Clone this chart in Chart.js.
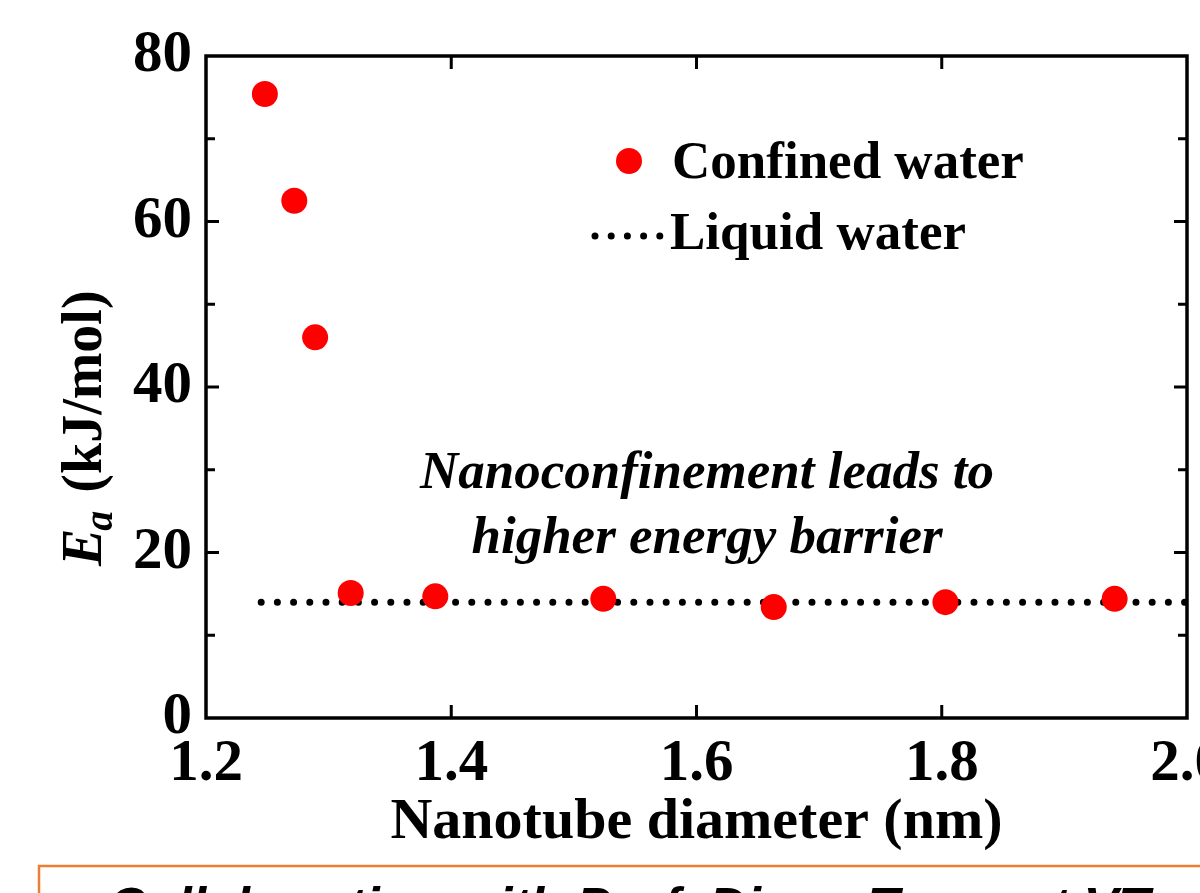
<!DOCTYPE html>
<html>
<head>
<meta charset="utf-8">
<script src="https://cdn.jsdelivr.net/npm/chart.js@4.4.0/dist/chart.umd.min.js"></script>
<style>
  html, body { margin: 0; padding: 0; background: #fff; }
  #wrap { width: 1200px; height: 893px; position: relative; }
</style>
</head>
<body>
<div id="wrap"><canvas id="chart"></canvas></div>
<script>
// nanotube diameter (nm) and activation energy (kJ/mol)
const diameters = [1.248, 1.272, 1.289, 1.318, 1.387, 1.524, 1.663, 1.803, 1.941];
const confinedEa = [75.4, 62.5, 46.0, 15.1, 14.7, 14.4, 13.4, 14.0, 14.4];
const liquidX = [1.245, 2.0];
const liquidEa = [14.0, 14.0];
const xTicks = [1.2, 1.4, 1.6, 1.8, 2.0];
const yTicks = [0, 20, 40, 60, 80];
const yMinorTicks = [10, 30, 50, 70];

const serif = '"Liberation Serif", "Times New Roman", serif';
const sans = '"Liberation Sans", Arial, sans-serif';

const frame = {
  id: 'frame',
  afterDatasetsDraw(chart) {
    const ctx = chart.ctx;
    const { left, right, top, bottom } = chart.chartArea;
    const xs = chart.scales.x, ys = chart.scales.y;
    ctx.save();
    ctx.strokeStyle = '#000';
    ctx.lineWidth = 3.5;
    ctx.strokeRect(left, top, right - left, bottom - top);

    // inward tick marks
    ctx.lineWidth = 3;
    ctx.beginPath();
    xTicks.slice(1, -1).forEach(v => {
      const px = xs.getPixelForValue(v);
      ctx.moveTo(px, bottom); ctx.lineTo(px, bottom - 13);
      ctx.moveTo(px, top); ctx.lineTo(px, top + 13);
    });
    yTicks.slice(1, -1).forEach(v => {
      const py = ys.getPixelForValue(v);
      ctx.moveTo(left, py); ctx.lineTo(left + 13, py);
      ctx.moveTo(right, py); ctx.lineTo(right - 13, py);
    });
    yMinorTicks.forEach(v => {
      const py = ys.getPixelForValue(v);
      ctx.moveTo(left, py); ctx.lineTo(left + 9, py);
      ctx.moveTo(right, py); ctx.lineTo(right - 9, py);
    });
    ctx.stroke();

    // legend
    const ds0 = chart.data.datasets[0], ds1 = chart.data.datasets[1];
    ctx.fillStyle = ds0.backgroundColor;
    ctx.beginPath();
    ctx.arc(629, 161, 13, 0, Math.PI * 2);
    ctx.fill();
    ctx.strokeStyle = ds1.borderColor;
    ctx.lineWidth = ds1.borderWidth;
    ctx.lineCap = 'round';
    ctx.setLineDash(ds1.borderDash);
    ctx.beginPath();
    ctx.moveTo(595, 236); ctx.lineTo(663, 236);
    ctx.stroke();
    ctx.setLineDash([]);
    ctx.fillStyle = '#000';
    ctx.textAlign = 'left';
    ctx.textBaseline = 'alphabetic';
    ctx.font = 'bold 53px ' + serif;
    ctx.fillText(ds0.label, 672, 178);
    ctx.fillText(ds1.label, 670, 249);

    // annotation
    ctx.font = 'italic bold 53px ' + serif;
    ctx.textAlign = 'center';
    ctx.fillText('Nanoconfinement leads to', 707, 488);
    ctx.fillText('higher energy barrier', 707, 553);

    // y axis title, rotated
    ctx.translate(101, 566);
    ctx.rotate(-Math.PI / 2);
    ctx.textAlign = 'left';
    ctx.font = 'italic bold 56px ' + serif;
    ctx.fillText('E', 0, 0);
    let u = ctx.measureText('E').width;
    ctx.font = 'italic bold 40px ' + serif;
    ctx.fillText('a', u - 2, 11);
    u += ctx.measureText('a').width + 2;
    ctx.font = 'bold 56px ' + serif;
    ctx.fillText(' (kJ/mol)', u, 0);
    ctx.restore();

    // orange caption box at the bottom
    ctx.save();
    ctx.strokeStyle = '#ed7d31';
    ctx.lineWidth = 2.5;
    ctx.strokeRect(39, 866, 1200, 100);
    ctx.fillStyle = '#000';
    ctx.font = 'italic bold 52px ' + sans;
    ctx.textAlign = 'left';
    ctx.fillText('Collaboration with Prof. Diego Troya at VT', 108, 924);
    ctx.restore();
  }
};

new Chart(document.getElementById('chart'), {
  type: 'scatter',
  data: {
    datasets: [{
      label: 'Confined water',
      data: diameters.map((d, i) => ({ x: d, y: confinedEa[i] })),
      backgroundColor: '#ff0000',
      borderWidth: 0,
      pointRadius: 13,
      pointHoverRadius: 13
    }, {
      label: 'Liquid water',
      type: 'line',
      data: liquidX.map((d, i) => ({ x: d, y: liquidEa[i] })),
      borderColor: '#000',
      borderWidth: 7,
      borderDash: [0, 16.2],
      borderCapStyle: 'round',
      pointRadius: 0,
      fill: false
    }]
  },
  options: {
    responsive: true,
    maintainAspectRatio: false,
    animation: false,
    events: [],
    layout: { padding: { top: 56, right: 6, left: 0, bottom: 35 } },
    plugins: { legend: { display: false }, tooltip: { enabled: false } },
    scales: {
      x: {
        type: 'linear',
        min: 1.2, max: 2.0,
        afterBuildTicks: s => { s.ticks = xTicks.map(v => ({ value: v })); },
        afterFit: s => { s.height = 140; s.paddingLeft = 0; s.paddingRight = 0; },
        grid: { display: false, drawTicks: false },
        border: { display: false },
        ticks: {
          color: '#000', padding: 11, maxRotation: 0,
          font: { family: serif, size: 59, weight: 'bold' },
          callback: v => v.toFixed(1)
        },
        title: {
          display: true, text: 'Nanotube diameter (nm)', color: '#000',
          font: { family: serif, size: 58, weight: 'bold' }, padding: { top: 0, bottom: 0 }
        }
      },
      y: {
        min: 0, max: 80,
        afterBuildTicks: s => { s.ticks = yTicks.map(v => ({ value: v })); },
        afterFit: s => { s.width = 206; s.paddingTop = 0; s.paddingBottom = 0; },
        grid: { display: false, drawTicks: false },
        border: { display: false },
        ticks: {
          color: '#000', padding: 14,
          font: { family: serif, size: 59, weight: 'bold' }
        }
      }
    }
  },
  plugins: [frame]
});
</script>
</body>
</html>
